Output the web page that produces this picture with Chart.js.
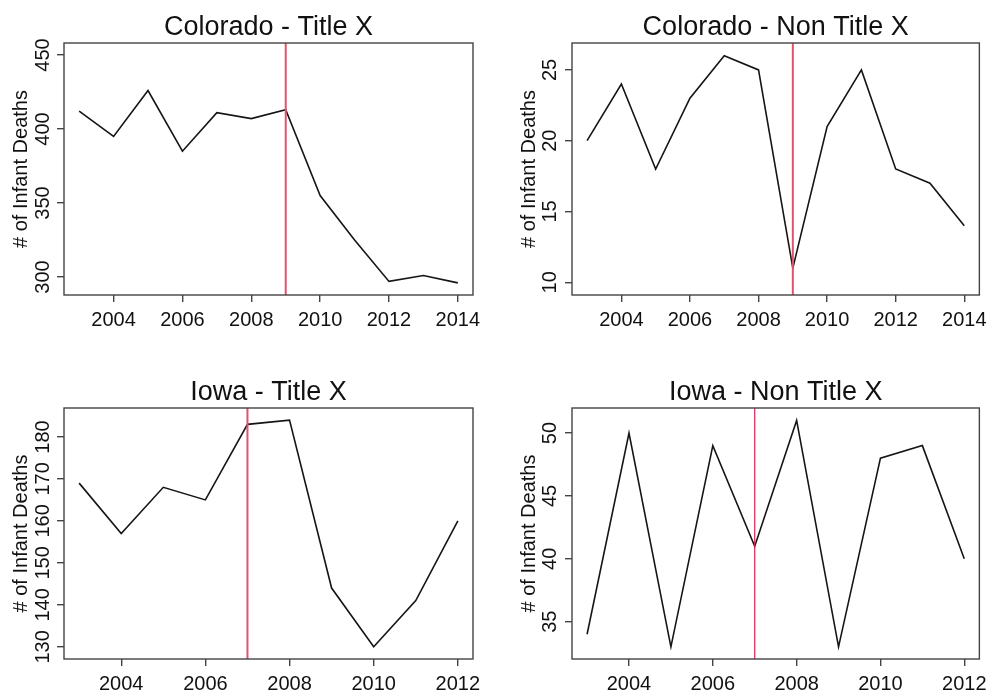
<!DOCTYPE html>
<html>
<head>
<meta charset="utf-8">
<script src="https://cdn.jsdelivr.net/npm/chart.js@4/dist/chart.umd.min.js"></script>
<style>
  html, body { margin: 0; padding: 0; background: #ffffff; }
  #wrap { position: relative; width: 993px; height: 696px; overflow: hidden; background: #ffffff; }
  canvas { position: absolute; }
</style>
</head>
<body>
<div id="wrap">
  <canvas id="c1" width="496" height="348" style="left:0px;top:0px;"></canvas>
  <canvas id="c2" width="497" height="348" style="left:496px;top:0px;"></canvas>
  <canvas id="c3" width="496" height="348" style="left:0px;top:348px;"></canvas>
  <canvas id="c4" width="497" height="348" style="left:496px;top:348px;"></canvas>
</div>
<script>
// ---------------- data ----------------
const coloradoYears = [2003, 2004, 2005, 2006, 2007, 2008, 2009, 2010, 2011, 2012, 2013, 2014];
const coloradoTitleX = [412, 395, 426, 385, 411, 407, 413, 355, 325, 297, 301, 296];
const coloradoNonTitleX = [20, 24, 18, 23, 26, 25, 11, 21, 25, 18, 17, 14];

const iowaYears = [2003, 2004, 2005, 2006, 2007, 2008, 2009, 2010, 2011, 2012];
const iowaTitleX = [169, 157, 168, 165, 183, 184, 144, 130, 141, 160];
const iowaNonTitleX = [34, 50, 33, 49, 41, 51, 33, 48, 49, 40];

const coloradoYearTicks = [2004, 2006, 2008, 2010, 2012, 2014];
const iowaYearTicks = [2004, 2006, 2008, 2010, 2012];

const coloradoTitleXTicks = [300, 350, 400, 450];
const coloradoNonTitleXTicks = [10, 15, 20, 25];
const iowaTitleXTicks = [130, 140, 150, 160, 170, 180];
const iowaNonTitleXTicks = [35, 40, 45, 50];

const coloradoPolicyYear = 2009;
const iowaPolicyYear = 2007;

const panelTitles = ["Colorado - Title X", "Colorado - Non Title X", "Iowa - Title X", "Iowa - Non Title X"];
const yAxisLabel = "# of Infant Deaths";

// ---------------- drawing ----------------
const FONT = '"Liberation Sans", Arial, Helvetica, sans-serif';

const rDecorations = {
  id: 'rDecorations',
  afterDatasetsDraw(chart, args, opts) {
    const ctx = chart.ctx;
    const a = chart.chartArea;
    const xs = chart.scales.x;
    ctx.save();
    const vx = xs.getPixelForValue(opts.vline);
    ctx.strokeStyle = opts.vColor;
    ctx.lineWidth = opts.vWidth;
    ctx.beginPath();
    ctx.moveTo(vx, a.top);
    ctx.lineTo(vx, a.bottom);
    ctx.stroke();
    ctx.restore();
  },
  afterDraw(chart, args, opts) {
    const ctx = chart.ctx;
    const a = chart.chartArea;
    const ys = chart.scales.y;
    ctx.save();
    ctx.strokeStyle = '#444444';
    ctx.lineWidth = 1.4;
    ctx.strokeRect(a.left, a.top, a.right - a.left, a.bottom - a.top);
    ctx.fillStyle = '#111111';
    ctx.font = '27px ' + FONT;
    ctx.textAlign = 'center';
    ctx.textBaseline = 'alphabetic';
    ctx.fillText(opts.title, (a.left + a.right) / 2, a.top - 8.5);
    ctx.font = '20px ' + FONT;
    ys.ticks.forEach(t => {
      const py = ys.getPixelForValue(t.value);
      ctx.save();
      ctx.translate(a.left - opts.tickLabelGap, py);
      ctx.rotate(-Math.PI / 2);
      ctx.textAlign = 'center';
      ctx.textBaseline = 'alphabetic';
      ctx.fillText(String(t.value), 0, 0);
      ctx.restore();
    });
    ctx.save();
    ctx.translate(a.left - opts.axisLabelGap, (a.top + a.bottom) / 2);
    ctx.rotate(-Math.PI / 2);
    ctx.textAlign = 'center';
    ctx.textBaseline = 'alphabetic';
    ctx.font = '20px ' + FONT;
    ctx.fillText(yAxisLabel, 0, 0);
    ctx.restore();
    ctx.restore();
  }
};

function makePanel(id, cfg) {
  const canvas = document.getElementById(id);
  const W = canvas.width, H = canvas.height;
  const pts = cfg.years.map((yr, i) => ({ x: yr, y: cfg.values[i] }));
  return new Chart(canvas, {
    type: 'line',
    data: {
      datasets: [{
        data: pts,
        borderColor: '#151515',
        borderWidth: 1.6,
        pointRadius: 0,
        pointHoverRadius: 0,
        tension: 0,
        fill: false
      }]
    },
    options: {
      responsive: false,
      animation: false,
      devicePixelRatio: 1,
      events: [],
      layout: { padding: { left: 0, top: cfg.area.top, right: W - cfg.area.right, bottom: 0 } },
      plugins: {
        legend: { display: false },
        tooltip: { enabled: false },
        title: { display: false },
        rDecorations: {
          title: cfg.title,
          vline: cfg.vline,
          vColor: cfg.vColor,
          vWidth: cfg.vWidth,
          tickLabelGap: cfg.tickLabelGap,
          axisLabelGap: cfg.axisLabelGap
        }
      },
      scales: {
        x: {
          type: 'linear',
          min: cfg.xmin, max: cfg.xmax,
          afterBuildTicks: s => { s.ticks = cfg.xticks.map(v => ({ value: v })); },
          afterFit: s => { s.height = H - cfg.area.bottom; },
          border: { display: false },
          grid: { drawOnChartArea: false, drawTicks: true, tickLength: 7, color: '#444444', lineWidth: 1.4 },
          ticks: {
            autoSkip: false, maxRotation: 0, minRotation: 0,
            padding: 6,
            color: '#111111',
            font: { family: FONT, size: 20 },
            callback: v => String(v)
          }
        },
        y: {
          type: 'linear',
          min: cfg.ymin, max: cfg.ymax,
          afterBuildTicks: s => { s.ticks = cfg.yticks.map(v => ({ value: v })); },
          afterFit: s => { s.width = cfg.area.left; },
          border: { display: false },
          grid: { drawOnChartArea: false, drawTicks: true, tickLength: 7, color: '#444444', lineWidth: 1.4 },
          ticks: { display: false }
        }
      }
    },
    plugins: [rDecorations]
  });
}

makePanel('c1', {
  title: panelTitles[0], years: coloradoYears, values: coloradoTitleX,
  xmin: 2002.56, xmax: 2014.44, ymin: 287.8, ymax: 458.1,
  xticks: coloradoYearTicks, yticks: coloradoTitleXTicks,
  vline: coloradoPolicyYear, vColor: '#DF536B', vWidth: 2,
  area: { left: 64, top: 43, right: 473, bottom: 295 },
  tickLabelGap: 15.5, axisLabelGap: 37.5
});
makePanel('c2', {
  title: panelTitles[1], years: coloradoYears, values: coloradoNonTitleX,
  xmin: 2002.56, xmax: 2014.44, ymin: 9.1, ymax: 26.9,
  xticks: coloradoYearTicks, yticks: coloradoNonTitleXTicks,
  vline: coloradoPolicyYear, vColor: '#DF536B', vWidth: 2,
  area: { left: 76, top: 43, right: 484, bottom: 295 },
  tickLabelGap: 16.5, axisLabelGap: 37.5
});
makePanel('c3', {
  title: panelTitles[2], years: iowaYears, values: iowaTitleX,
  xmin: 2002.64, xmax: 2012.36, ymin: 127.1, ymax: 186.9,
  xticks: iowaYearTicks, yticks: iowaTitleXTicks,
  vline: iowaPolicyYear, vColor: '#DF536B', vWidth: 2,
  area: { left: 64, top: 60, right: 473, bottom: 311 },
  tickLabelGap: 15.5, axisLabelGap: 37.5
});
makePanel('c4', {
  title: panelTitles[3], years: iowaYears, values: iowaNonTitleX,
  xmin: 2002.64, xmax: 2012.36, ymin: 32.03, ymax: 51.99,
  xticks: iowaYearTicks, yticks: iowaNonTitleXTicks,
  vline: iowaPolicyYear, vColor: '#DC1F55', vWidth: 1.2,
  area: { left: 76, top: 60, right: 484, bottom: 311 },
  tickLabelGap: 16.5, axisLabelGap: 37.5
});
</script>
</body>
</html>
